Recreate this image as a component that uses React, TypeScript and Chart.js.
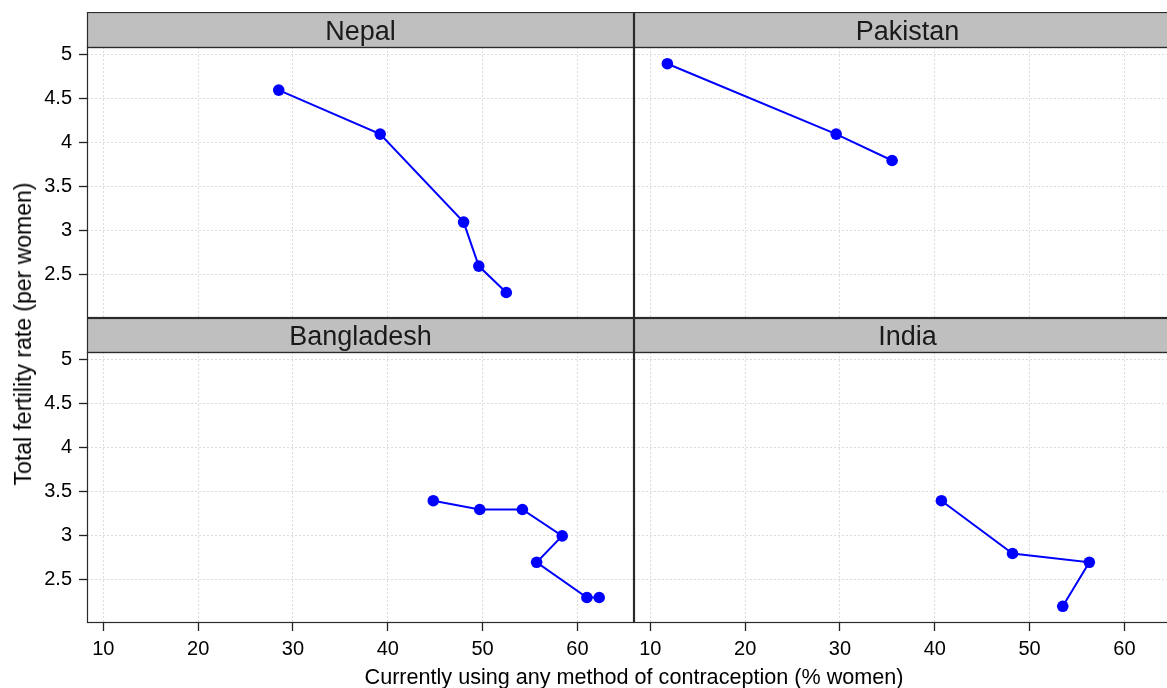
import React, { useEffect, useRef } from 'react';
import { Chart, registerables } from 'chart.js';

Chart.register(...registerables);

const FONT = "'Liberation Sans', Arial, sans-serif";

// ---- data ----
const nepalX = [28.5, 39.2, 48.0, 49.6, 52.5];
const nepalY = [4.6, 4.1, 3.1, 2.6, 2.3];
const pakistanX = [11.8, 29.6, 35.5];
const pakistanY = [4.9, 4.1, 3.8];
const bangladeshX = [44.8, 49.7, 54.2, 58.4, 55.7, 61.0, 62.3];
const bangladeshY = [3.4, 3.3, 3.3, 3.0, 2.7, 2.3, 2.3];
const indiaX = [40.7, 48.2, 56.3, 53.5];
const indiaY = [3.4, 2.8, 2.7, 2.2];

const xTicks = [10, 20, 30, 40, 50, 60];
const xTickLabels = ['10', '20', '30', '40', '50', '60'];
const yTicks = [2.5, 3, 3.5, 4, 4.5, 5];
const yTickLabels = ['2.5', '3', '3.5', '4', '4.5', '5'];
const xRange = [8.28, 65.97];
const yRange = [2.01, 5.09];

const xTitle = 'Currently using any method of contraception (% women)';
const yTitle = 'Total fertility rate (per women)';

type PanelProps = {
  name: string;
  xs: number[];
  ys: number[];
  left: number;
  top: number;
  width: number;
  height: number;
  stripH: number;
  axisLeft: number;
  axisBottom: number;
  showX: boolean;
  showY: boolean;
};

const framePlugin = (name: string, stripH: number) => ({
  id: 'frameStrip',
  afterDraw(chart: any) {
    const { ctx, chartArea } = chart;
    const { left, right, top, bottom } = chartArea;
    ctx.save();
    // strip
    ctx.fillStyle = '#BFBFBF';
    ctx.fillRect(left, top - stripH, right - left, stripH);
    ctx.strokeStyle = '#2A2A2A';
    ctx.lineWidth = 1.2;
    ctx.strokeRect(left + 0.5, top - stripH + 0.5, right - left - 1, stripH);
    // panel frame
    ctx.strokeRect(left + 0.5, top + 0.5, right - left - 1, bottom - top - 1);
    // strip text
    ctx.fillStyle = '#1A1A1A';
    ctx.font = `27px ${FONT}`;
    ctx.textAlign = 'center';
    ctx.textBaseline = 'alphabetic';
    ctx.fillText(name, (left + right) / 2, top - 7);
    ctx.restore();
  },
});

function Panel(p: PanelProps) {
  const ref = useRef<HTMLCanvasElement | null>(null);
  useEffect(() => {
    if (!ref.current) return;
    const pts = p.xs.map((x, i) => ({ x, y: p.ys[i] }));
    const chart = new Chart(ref.current, {
      type: 'scatter',
      data: {
        datasets: [
          {
            data: pts,
            showLine: true,
            borderColor: '#0000FF',
            backgroundColor: '#0000FF',
            borderWidth: 2,
            pointRadius: 5.8,
            pointBorderWidth: 0,
            pointBackgroundColor: '#0000FF',
            clip: false as any,
          },
        ],
      },
      options: {
        animation: false,
        responsive: false,
        maintainAspectRatio: false,
        events: [],
        layout: { autoPadding: false, padding: { top: p.stripH, left: 0, right: 0, bottom: 0 } },
        plugins: {
          legend: { display: false },
          tooltip: { enabled: false },
          title: { display: false },
        },
        scales: {
          x: {
            type: 'linear',
            min: xRange[0],
            max: xRange[1],
            afterBuildTicks: (s: any) => {
              s.ticks = xTicks.map((v) => ({ value: v }));
            },
            afterFit: (s: any) => {
              s.height = p.axisBottom;
              s.paddingLeft = 0;
              s.paddingRight = 0;
            },
            ticks: {
              display: p.showX,
              autoSkip: false,
              maxRotation: 0,
              padding: 6,
              color: '#000000',
              font: { family: FONT, size: 20 },
              callback: (v: any) => {
                const i = xTicks.indexOf(Number(v));
                return i >= 0 ? xTickLabels[i] : '';
              },
            },
            grid: {
              color: '#DCDCDC',
              lineWidth: 1,
              drawTicks: p.showX,
              tickLength: 8,
              tickColor: '#222222',
              tickWidth: 1.3,
            },
            border: { display: false, dash: [2, 2] },
          },
          y: {
            type: 'linear',
            min: yRange[0],
            max: yRange[1],
            afterBuildTicks: (s: any) => {
              s.ticks = yTicks.map((v) => ({ value: v }));
            },
            afterFit: (s: any) => {
              s.width = p.axisLeft;
              s.paddingTop = 0;
              s.paddingBottom = 0;
            },
            ticks: {
              display: p.showY,
              autoSkip: false,
              padding: 7,
              color: '#000000',
              font: { family: FONT, size: 20 },
              callback: (v: any) => {
                const i = yTicks.indexOf(Number(v));
                return i >= 0 ? yTickLabels[i] : '';
              },
            },
            grid: {
              color: '#DCDCDC',
              lineWidth: 1,
              drawTicks: p.showY,
              tickLength: 8,
              tickColor: '#222222',
              tickWidth: 1.3,
            },
            border: { display: false, dash: [2, 2] },
          },
        },
      },
      plugins: [framePlugin(p.name, p.stripH)],
    });
    return () => chart.destroy();
  }, []);
  return (
    <canvas
      ref={ref}
      width={p.width}
      height={p.height}
      style={{
        position: 'absolute',
        left: p.left,
        top: p.top,
        width: p.width,
        height: p.height,
      }}
    />
  );
}

export default function App() {
  return (
    <div
      style={{
        position: 'fixed',
        left: 0,
        top: 0,
        width: 1167,
        height: 688,
        overflow: 'hidden',
        background: '#FFFFFF',
        fontFamily: FONT,
      }}
    >
      <Panel name="Nepal" xs={nepalX} ys={nepalY} left={0} top={12} width={634} height={306}
        stripH={35} axisLeft={87} axisBottom={0} showX={false} showY={true} />
      <Panel name="Pakistan" xs={pakistanX} ys={pakistanY} left={634} top={12} width={547} height={306}
        stripH={35} axisLeft={0} axisBottom={0} showX={false} showY={false} />
      <Panel name="Bangladesh" xs={bangladeshX} ys={bangladeshY} left={0} top={318} width={634} height={370}
        stripH={34} axisLeft={87} axisBottom={65} showX={true} showY={true} />
      <Panel name="India" xs={indiaX} ys={indiaY} left={634} top={318} width={547} height={370}
        stripH={34} axisLeft={0} axisBottom={65} showX={true} showY={false} />
      <div
        style={{
          position: 'absolute',
          left: 634,
          top: 665,
          transform: 'translateX(-50%)',
          whiteSpace: 'nowrap',
          fontSize: 21.6,
          lineHeight: '24px',
          color: '#000000',
        }}
      >
        {xTitle}
      </div>
      <div
        style={{
          position: 'absolute',
          left: 23,
          top: 334,
          transform: 'translate(-50%, -50%) rotate(-90deg)',
          whiteSpace: 'nowrap',
          fontSize: 23,
          lineHeight: '24px',
          color: '#000000',
        }}
      >
        {yTitle}
      </div>
    </div>
  );
}
